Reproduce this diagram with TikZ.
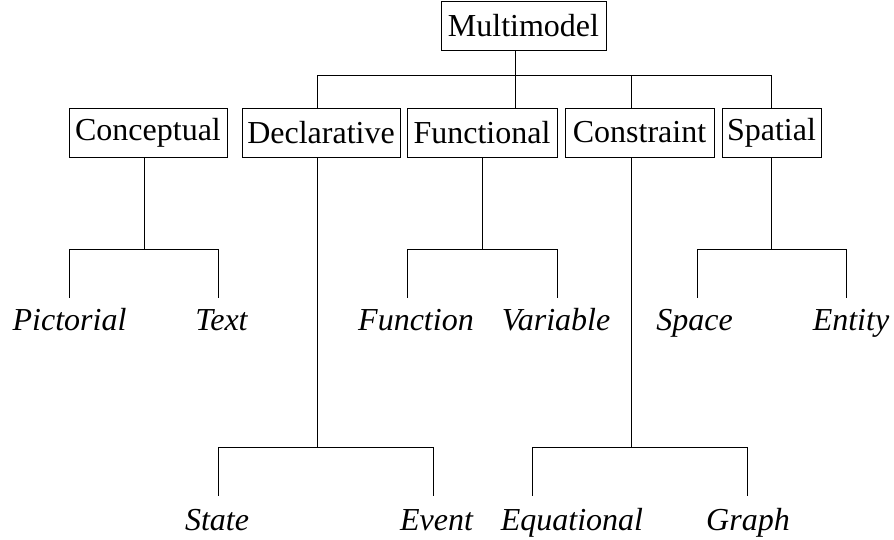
\documentclass[tikz,border=0pt]{standalone}
\usepackage{fontspec}
\setmainfont{Liberation Serif}
\begin{document}
\begin{tikzpicture}[x=1pt,y=-1pt,line width=1pt,
  box/.style={draw,line width=1pt,minimum height=49pt,inner sep=0pt,font=\fontsize{32}{38}\selectfont},
  leafa/.style={anchor=base,inner xsep=0pt,inner ysep=10pt,text height=22pt,text depth=7pt,font=\fontsize{32}{38}\selectfont\itshape},
  leafb/.style={leafa,inner ysep=12pt}]
\useasboundingbox (0,0) rectangle (894,539);
% boxes
\node[box,minimum width=165pt] (mm) at (523.5,25.5) {Multimodel};
\node[box,minimum width=158pt] (con) at (148,132.5) {Conceptual};
\node[box,minimum width=158pt] (dec) at (321,132.5) {Declarative};
\node[box,minimum width=150pt] (fun) at (482,132.5) {Functional};
\node[box,minimum width=149pt] (cst) at (639.5,132.5) {Constraint};
\node[box,minimum width=99pt] (spa) at (771.5,132.5) {Spatial};
% leaves
\node[leafa] (pic) at (69.5,330) {Pictorial};
\node[leafa] (txt) at (221.5,330) {Text};
\node[leafa] (fn) at (416,330) {Function};
\node[leafa] (var) at (556,330) {Variable};
\node[leafa] (spc) at (694.5,330) {Space};
\node[leafa] (ent) at (851,330) {Entity};
\node[leafb] (st) at (217,530) {State};
\node[leafb] (ev) at (436.5,530) {Event};
\node[leafb] (eq) at (572,530) {Equational};
\node[leafb] (gr) at (748,530) {Graph};
% junction coordinates
\coordinate (mmj) at (515,75);
\coordinate (decj) at (317,75);
\coordinate (cstj) at (631,75);
\coordinate (spaj) at (771,75);
\coordinate (conj) at (144,249);
\coordinate (picj) at (69,249);
\coordinate (txtj) at (218,249);
\coordinate (funj) at (482,249);
\coordinate (fnj) at (407,249);
\coordinate (varj) at (557,249);
\coordinate (spaj2) at (771,249);
\coordinate (spcj) at (697,249);
\coordinate (entj) at (846,249);
\coordinate (decj2) at (317,447);
\coordinate (stj) at (218,447);
\coordinate (evj) at (433,447);
\coordinate (cstj2) at (631,447);
\coordinate (eqj) at (532,447);
\coordinate (grj) at (747,447);
% top level
\draw (mm.south -| mmj) -- (mmj |- fun.north);
\draw (decj) -- (spaj);
\draw (decj) -- (decj |- dec.north);
\draw (cstj) -- (cstj |- cst.north);
\draw (spaj) -- (spaj |- spa.north);
% conceptual
\draw (conj |- con.south) -- (conj);
\draw (picj |- pic.north) -- (picj) -- (txtj) -- (txtj |- txt.north);
% functional
\draw (funj |- fun.south) -- (funj);
\draw (fnj |- fn.north) -- (fnj) -- (varj) -- (varj |- var.north);
% spatial
\draw (spaj2 |- spa.south) -- (spaj2);
\draw (spcj |- spc.north) -- (spcj) -- (entj) -- (entj |- ent.north);
% declarative
\draw (decj2 |- dec.south) -- (decj2);
\draw (stj |- st.north) -- (stj) -- (evj) -- (evj |- ev.north);
% constraint
\draw (cstj2 |- cst.south) -- (cstj2);
\draw (eqj |- eq.north) -- (eqj) -- (grj) -- (grj |- gr.north);
\end{tikzpicture}
\end{document}
